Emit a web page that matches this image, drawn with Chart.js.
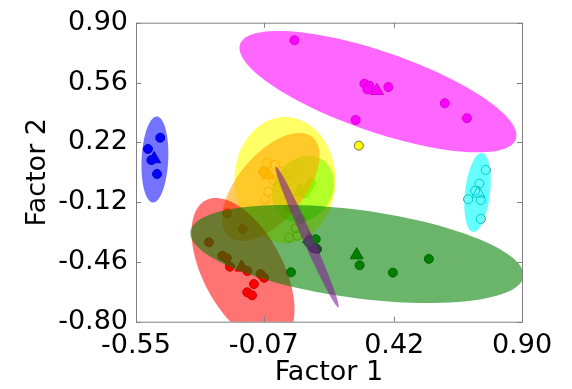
<!DOCTYPE html>
<html>
<head>
<meta charset="utf-8">
<script src="https://cdn.jsdelivr.net/npm/chart.js@4"></script>
<style>
  body { margin: 0; background: #fff; }
  canvas { display: block; }
</style>
</head>
<body>
<canvas id="factorChart" width="572" height="389"></canvas>
<script>
// axis ticks
const xTicks = [-0.55, -0.07, 0.42, 0.90];
const yTicks = [-0.80, -0.46, -0.12, 0.22, 0.56, 0.90];

// factor scores [factor 1, factor 2] per group
const bluePts = [[-0.459, 0.246], [-0.505, 0.182], [-0.492, 0.119], [-0.471, 0.040]];
const blueMean = [[-0.482, 0.125]];
const magentaPts = [[0.045, 0.80], [0.308, 0.553], [0.326, 0.542], [0.319, 0.521], [0.398, 0.534],
                    [0.610, 0.442], [0.693, 0.357], [0.275, 0.347]];
const magentaMean = [[0.355, 0.513]];
const yellowPts = [[0.287, 0.201]];
const cyanPts = [[0.764, 0.063], [0.740, -0.015], [0.724, -0.055], [0.698, -0.104], [0.745, -0.108], [0.745, -0.216]];
const cyanMean = [[0.736, -0.070]];
const greenPts = [[0.032, -0.519], [0.290, -0.479], [0.415, -0.521], [0.550, -0.443], [0.125, -0.331],
                  [0.100, -0.351], [0.022, -0.155], [0.069, -0.216]];
const greenMean = [[0.279, -0.421]];
const redPts = [[-0.207, -0.184], [-0.149, -0.273], [-0.276, -0.348], [-0.226, -0.425], [-0.209, -0.439],
                [-0.197, -0.487], [-0.132, -0.512], [-0.082, -0.529], [-0.069, -0.550], [-0.107, -0.586],
                [-0.132, -0.633], [-0.114, -0.650]];
const redMean = [[-0.153, -0.491]];
const orangePts = [[-0.059, 0.104], [-0.028, 0.091], [-0.003, 0.053], [0.018, 0.040], [0.057, 0.072],
                   [0.029, 0.002], [0.003, -0.013], [-0.015, -0.036], [-0.053, -0.061], [-0.065, -0.104],
                   [-0.034, 0.006], [-0.153, -0.184]];
const orangeFilled = [[-0.072, 0.053]];
const orangeMean = [[-0.053, 0.034]];
const limePts = [[0.107, -0.010], [0.097, -0.038], [0.085, -0.070]];
const limeMean = [[0.066, -0.061]];
const limeOpen = [[0.051, -0.269], [0.056, -0.311], [0.025, -0.322]];
const purplePts = [[0.115, -0.381], [0.130, -0.387]];
const purpleMean = [[0.100, -0.330]];

// ellipses: centre x, centre y, semi-axis 1 (dx, dy), semi-axis 2 (dx, dy) in factor units
const yellowEllipse = [0.0097, 0.0057, 0.0, 0.358, 0.190, 0.0];
const limeEllipse = [0.0773, -0.0455, 0.0755, 0.163, 0.0893, -0.0945];
const orangeEllipse = [-0.0436, -0.034, 0.157, 0.283, 0.095, -0.1205];
const redEllipse = [-0.148, -0.512, 0.1409, -0.4015, -0.1326, -0.1069];
const greenEllipse = [0.280, -0.415, 0.6255, -0.128, -0.022, -0.248];
const purpleEllipse = [0.0925, -0.318, 0.1176, -0.3997, -0.0172, -0.0115];
const magentaEllipse = [0.359, 0.508, 0.518, -0.270, -0.049, -0.215];
const blueEllipse = [-0.479, 0.122, 0.0075, 0.2445, 0.050, -0.003];
const cyanEllipse = [0.733, -0.065, 0.017, 0.2246, 0.0466, -0.008];

const ellipses = [
    [yellowEllipse, 'rgba(255,255,0,0.6)'],
    [limeEllipse, 'rgba(127,255,0,0.6)'],
    [orangeEllipse, 'rgba(255,165,0,0.6)'],
    [redEllipse, 'rgba(255,0,0,0.55)'],
    [greenEllipse, 'rgba(0,128,0,0.58)'],
    [purpleEllipse, 'rgba(128,30,150,0.6)'],
    [magentaEllipse, 'rgba(255,0,255,0.6)'],
    [blueEllipse, 'rgba(0,0,255,0.55)'],
    [cyanEllipse, 'rgba(0,255,255,0.6)']
];

function toXY(arr) {
    return arr.map(p => ({ x: p[0], y: p[1] }));
}

function pts(data, fill, edge, style) {
    return {
        data: toXY(data),
        pointStyle: style || 'circle',
        pointRadius: style === 'triangle' ? 7.5 : 4.5,
        pointBackgroundColor: fill,
        pointBorderColor: edge,
        pointBorderWidth: 1
    };
}

const ellipsePlugin = {
    id: 'ellipses',
    afterDatasetsDraw(chart) {
        const { ctx, chartArea, scales: { x, y } } = chart;
        ctx.save();
        ctx.beginPath();
        ctx.rect(chartArea.left, chartArea.top, chartArea.right - chartArea.left, chartArea.bottom - chartArea.top);
        ctx.clip();
        ellipses.forEach(([e, color]) => {
            ctx.beginPath();
            for (let i = 0; i <= 120; i++) {
                const t = i / 120 * Math.PI * 2;
                const px = x.getPixelForValue(e[0] + e[2] * Math.cos(t) + e[4] * Math.sin(t));
                const py = y.getPixelForValue(e[1] + e[3] * Math.cos(t) + e[5] * Math.sin(t));
                if (i === 0) ctx.moveTo(px, py); else ctx.lineTo(px, py);
            }
            ctx.closePath();
            ctx.fillStyle = color;
            ctx.fill();
        });
        ctx.restore();
    },
    afterDraw(chart) {
        const { ctx, chartArea: a, scales: { x, y } } = chart;
        ctx.save();
        ctx.strokeStyle = '#808080';
        ctx.lineWidth = 1;
        ctx.strokeRect(a.left + 0.5, a.top + 0.5, a.right - a.left, a.bottom - a.top);
        ctx.beginPath();
        xTicks.forEach(v => {
            const px = Math.round(x.getPixelForValue(v)) + 0.5;
            ctx.moveTo(px, a.bottom); ctx.lineTo(px, a.bottom - 5);
            ctx.moveTo(px, a.top); ctx.lineTo(px, a.top + 5);
        });
        yTicks.forEach(v => {
            const py = Math.round(y.getPixelForValue(v)) + 0.5;
            ctx.moveTo(a.left, py); ctx.lineTo(a.left + 5, py);
            ctx.moveTo(a.right, py); ctx.lineTo(a.right - 5, py);
        });
        ctx.stroke();
        ctx.restore();
    }
};

const dark = 'rgba(0,0,0,0.55)';
const tickFont = { family: 'DejaVu Sans', size: 27 };

new Chart(document.getElementById('factorChart'), {
    type: 'scatter',
    data: {
        datasets: [
            pts(bluePts, '#0000ff', '#00008b'),
            pts(blueMean, '#0000ff', '#00008b', 'triangle'),
            pts(magentaPts, '#ff00ff', '#8b008b'),
            pts(magentaMean, '#ff00ff', '#8b008b', 'triangle'),
            pts(yellowPts, '#ffff00', dark),
            pts(cyanPts, 'rgba(0,0,0,0)', '#007b7b'),
            pts(cyanMean, 'rgba(0,0,0,0)', '#007b7b', 'triangle'),
            pts(greenPts, '#008000', '#004000'),
            pts(greenMean, '#008000', '#004000', 'triangle'),
            pts(redPts, '#ff0000', '#8b0000'),
            pts(redMean, '#ff0000', '#8b0000', 'triangle'),
            pts(orangePts, 'rgba(0,0,0,0)', '#e07800'),
            pts(orangeFilled, '#ff8c00', '#c06000'),
            pts(orangeMean, '#ff8c00', '#c06000', 'triangle'),
            pts(limePts, '#00ff00', '#00a000'),
            pts(limeMean, '#00ff00', '#00a000', 'triangle'),
            pts(limeOpen, 'rgba(0,0,0,0)', '#1a8a1a'),
            pts(purplePts, '#4b0082', '#2a004a'),
            pts(purpleMean, '#4b0082', '#2a004a', 'triangle')
        ]
    },
    options: {
        responsive: false,
        animation: false,
        layout: { padding: { top: 22.7, right: 50, bottom: 0, left: 0 } },
        plugins: { legend: { display: false }, tooltip: { enabled: false } },
        scales: {
            x: {
                type: 'linear',
                min: -0.55,
                max: 0.90,
                afterBuildTicks: axis => { axis.ticks = xTicks.map(v => ({ value: v })); },
                afterFit: axis => {
                    axis.height = 67.3;
                    axis.paddingLeft = 0; axis.paddingRight = 0; axis.paddingTop = 0; axis.paddingBottom = 0;
                },
                grid: { display: false, drawTicks: false },
                border: { display: false },
                ticks: {
                    autoSkip: false, maxRotation: 0, padding: 8, color: '#000', font: tickFont,
                    callback: v => v.toFixed(2)
                },
                title: { display: true, text: 'Factor 1', color: '#000', font: tickFont, padding: 0 }
            },
            y: {
                type: 'linear',
                min: -0.80,
                max: 0.90,
                afterBuildTicks: axis => { axis.ticks = yTicks.map(v => ({ value: v })); },
                afterFit: axis => {
                    axis.width = 136;
                    axis.paddingLeft = 0; axis.paddingRight = 0; axis.paddingTop = 0; axis.paddingBottom = 0;
                },
                grid: { display: false, drawTicks: false },
                border: { display: false },
                ticks: {
                    autoSkip: false, padding: 8, color: '#000', font: tickFont,
                    callback: v => v.toFixed(2)
                },
                title: { display: true, text: 'Factor 2', color: '#000', font: tickFont, padding: { top: 22, bottom: 0 } }
            }
        }
    },
    plugins: [ellipsePlugin]
});
</script>
</body>
</html>
